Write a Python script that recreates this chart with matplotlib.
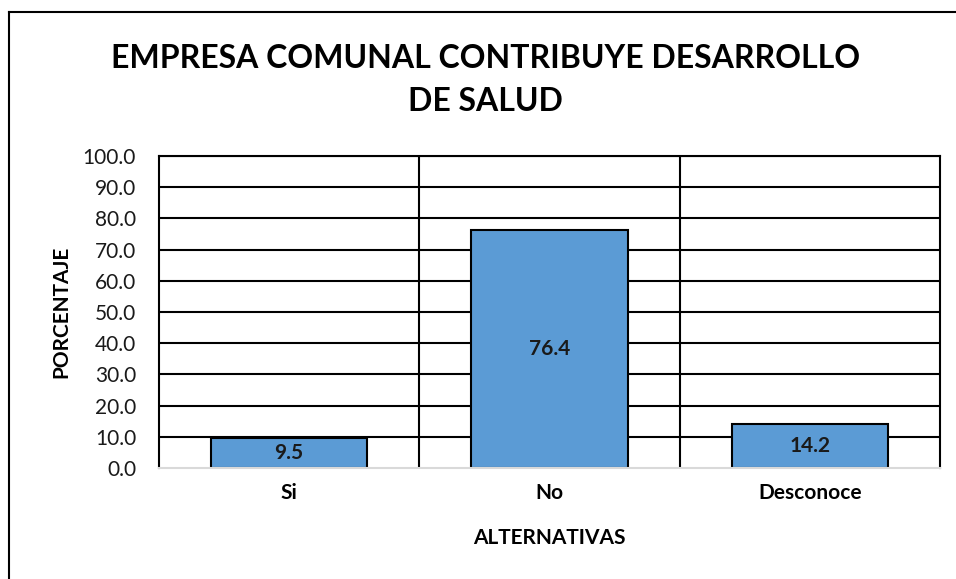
import matplotlib
matplotlib.use("Agg")
import matplotlib.pyplot as plt
from matplotlib.lines import Line2D

categories = ["Si", "No", "Desconoce"]
values = [9.5, 76.4, 14.2]
yticks = [0, 10, 20, 30, 40, 50, 60, 70, 80, 90, 100]
title = "EMPRESA COMUNAL CONTRIBUYE DESARROLLO\nDE SALUD"

plt.rcParams['font.family'] = ['Lato', 'DejaVu Sans']

W, H = 956, 579
fig = plt.figure(figsize=(W / 100, H / 100), dpi=100)
# outer chart border (only left and top are visible in the reference)
fig.lines.append(Line2D([9 / W, 9 / W], [0, 1 - 12 / H], transform=fig.transFigure,
                        color='black', linewidth=1.5))
fig.lines.append(Line2D([9 / W, 1], [1 - 12 / H, 1 - 12 / H], transform=fig.transFigure,
                        color='black', linewidth=1.5))

ax = fig.add_axes([159 / W, 1 - 468 / H, (940 - 159) / W, (468 - 156) / H])
x = list(range(len(categories)))
ax.set_xlim(-0.5, len(categories) - 0.5)
ax.set_ylim(0, 100)
ax.set_yticks(yticks)
ax.set_yticklabels([f"{v:.1f}" for v in yticks], fontsize=15, color='#1a1a1a')
for v in yticks[1:]:
    ax.axhline(v, color='black', linewidth=1.5, zorder=1)
for b in [i + 0.5 for i in x[:-1]]:
    ax.axvline(b, color='black', linewidth=1.5, zorder=1)

ax.bar(x, values, width=0.6, color='#5B9BD5', edgecolor='black', linewidth=1.5, zorder=2)
for xi, v in zip(x, values):
    ax.text(xi, v / 2, f"{v:.1f}", ha='center', va='center', fontsize=15,
            fontweight='bold', color='#1a1a1a', zorder=3)

ax.set_xticks(x)
ax.set_xticklabels(categories, fontsize=15, fontweight='bold')
ax.tick_params(axis='both', length=0)
ax.tick_params(axis='x', pad=11)
ax.tick_params(axis='y', pad=16.5)
for s in ['left', 'top', 'right']:
    ax.spines[s].set_color('black')
    ax.spines[s].set_linewidth(1.5)
ax.spines['bottom'].set_color('#D9D9D9')
ax.spines['bottom'].set_linewidth(1.5)

ax.set_xlabel("ALTERNATIVAS", fontsize=15, fontweight='bold', labelpad=18)
ax.set_ylabel("PORCENTAJE", fontsize=15, fontweight='bold')
ax.yaxis.set_label_coords((71 - 159) / 781, 0.5)

fig.text(0.508, 1 - 80 / H, title, ha='center', va='center', fontsize=23,
         fontweight='bold', linespacing=1.6)

fig.savefig("out.png", dpi=100)
